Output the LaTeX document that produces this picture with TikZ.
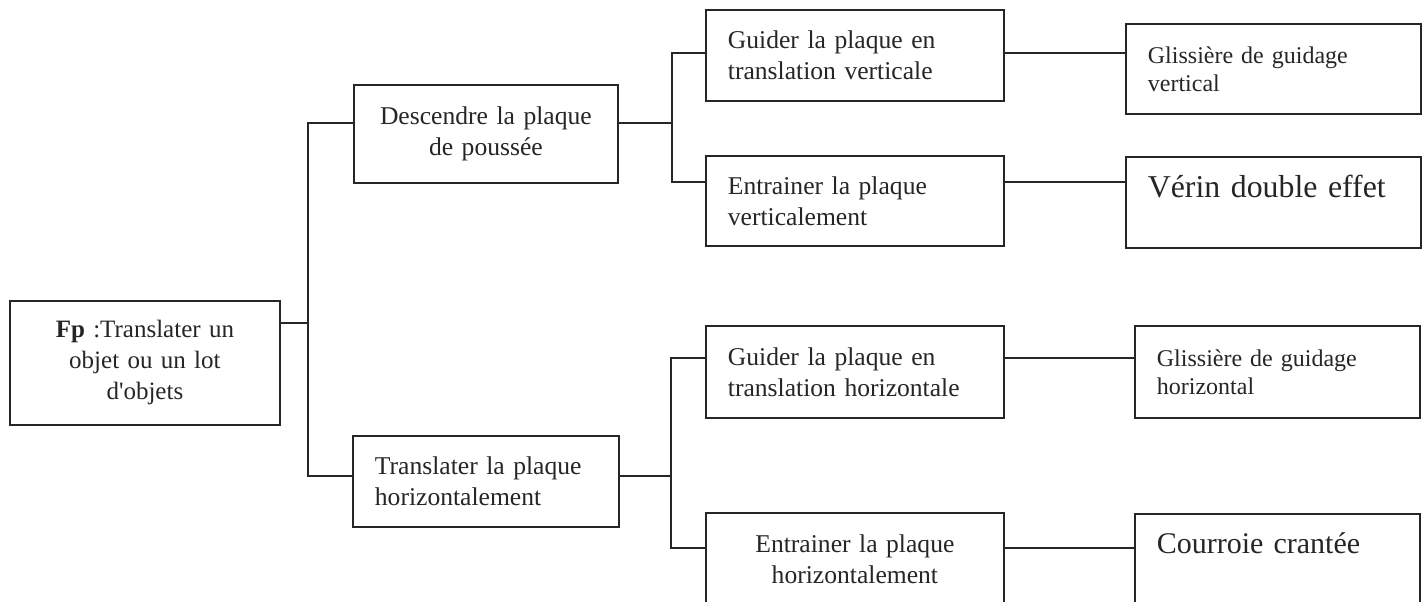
\documentclass[tikz,border=0pt]{standalone}
\usepackage{fontspec}
\setmainfont{Liberation Serif}
\begin{document}
\begin{tikzpicture}[x=0.5pt, y=-0.5pt,
	box/.style={draw=black!85, line width=0.9pt, anchor=north west, inner xsep=11pt, inner ysep=0pt, align=left, text=black!85, font=\fontsize{12.8}{15.5}\selectfont},
	midbox/.style={box, inner xsep=4pt, align=center},
	smallbox/.style={box, font=\fontsize{12}{14}\selectfont},
	bigbox/.style={box, font=\fontsize{15}{18}\selectfont, text height=11pt},
	link/.style={draw=black!85, line width=0.9pt}]
	\useasboundingbox (0,0) rectangle (1426,601);
	\clip (0,0) rectangle (1426,601);
	\fill[white] (0,0) rectangle (1426,601);
	\node[midbox, font=\fontsize{12.5}{15.5}\selectfont, text width=127pt, minimum height=62pt] (fp) at (9,300) {\textbf{Fp} :Translater un\\ objet ou un lot\\ d\textquotesingle objets};
	\node[midbox, text width=124pt, minimum height=49pt] (desc) at (353,84) {Descendre la plaque\\ de poussée};
	\node[box, text width=111pt, minimum height=45.5pt] (trans) at (352,435) {Translater la plaque\\ horizontalement};
	\node[box, text width=127pt, minimum height=45.5pt] (guidv) at (705,9) {Guider la plaque en\\ translation verticale};
	\node[box, text width=127pt, minimum height=45pt] (entrv) at (705,155) {Entrainer la plaque\\ verticalement};
	\node[smallbox, text width=125.5pt, minimum height=45pt] (glisv) at (1125,23) {Glissière de guidage\\ vertical};
	\node[bigbox, font=\fontsize{15.9}{18}\selectfont, text depth=16pt, text width=125.5pt, minimum height=45.5pt] (verin) at (1125,156) {Vérin double effet};
	\node[box, text width=127pt, minimum height=46pt] (guidh) at (705,325) {Guider la plaque en\\ translation horizontale};
	\node[smallbox, text width=120.5pt, minimum height=46pt] (glish) at (1134,325) {Glissière de guidage\\ horizontal};
	\node[midbox, text width=141pt, minimum height=46pt] (entrh) at (705,512) {Entrainer la plaque\\ horizontalement};
	\node[bigbox, text depth=17.5pt, text width=120.5pt, minimum height=46pt] (courr) at (1134,513) {Courroie crantée};
	\coordinate (k0) at (308,323);
	\coordinate (k1) at (308,123);
	\coordinate (k2) at (308,476);
	\coordinate (m1) at (672,53);
	\coordinate (m2) at (672,182);
	\coordinate (n1) at (671,358);
	\coordinate (n2) at (671,548);
	\draw[link] (fp.east |- k0) -- (k0);
	\draw[link] (desc.west |- k1) -- (k1) -- (k2) -- (trans.west |- k2);
	\draw[link] (desc.east |- k1) -- (k1 -| m1);
	\draw[link] (guidv.west |- m1) -- (m1) -- (m2) -- (entrv.west |- m2);
	\draw[link] (guidv.east |- m1) -- (glisv.west |- m1);
	\draw[link] (entrv.east |- m2) -- (verin.west |- m2);
	\draw[link] (trans.east |- k2) -- (k2 -| n1);
	\draw[link] (guidh.west |- n1) -- (n1) -- (n2) -- (entrh.west |- n2);
	\draw[link] (guidh.east |- n1) -- (glish.west |- n1);
	\draw[link] (entrh.east |- n2) -- (courr.west |- n2);
\end{tikzpicture}
\end{document}
